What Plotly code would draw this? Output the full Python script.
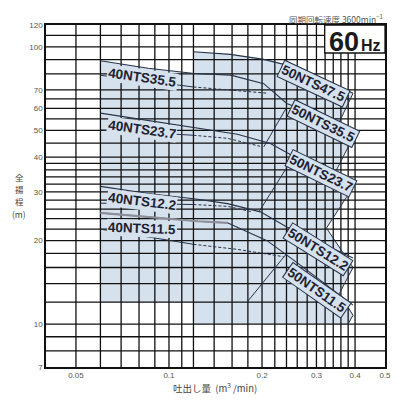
import numpy as np
import plotly.graph_objects as go

# ---------------- axes / grid ----------------
x_range = [0.04, 0.5]
y_range = [7, 120]
x_grid = [0.05, 0.06, 0.07, 0.08, 0.09, 0.1, 0.11, 0.12, 0.14, 0.16, 0.18, 0.2,
          0.22, 0.24, 0.26, 0.28, 0.3, 0.32, 0.34, 0.36, 0.38, 0.4]
y_grid = [8, 9, 10, 12, 14, 16, 18, 20, 22, 24, 26, 28, 30, 32, 34, 36, 38, 40,
          45, 50, 55, 60, 65, 70, 80, 90, 100, 110]
x_ticks = [0.05, 0.1, 0.2, 0.3, 0.4, 0.5]
x_tick_text = ["0.05", "0.1", "0.2", "0.3", "0.4", "0.5"]
y_ticks = [7, 10, 20, 30, 40, 50, 60, 70, 100, 120]
y_tick_text = ["7", "10", "20", "30", "40", "50", "60", "70", "100", "120"]

# ---------------- shaded ranges ----------------
area40_q = [0.06, 0.06, 0.0856, 0.12, 0.12]
area40_h = [12, 89.1, 83.8, 80.2, 12]
area50_q = [0.12, 0.12, 0.158, 0.2026, 0.2406, 0.300, 0.394, 0.343, 0.394, 0.348,
            0.394, 0.3233, 0.394, 0.356, 0.394, 0.3795]
area50_h = [10, 96.1, 94.0, 90.2, 86.0, 78.5, 68.0, 49.3, 47.2, 35.9,
            31.2, 22.2, 16.0, 12.9, 10.76, 10]
edge_q = [0.394, 0.343, 0.394, 0.348, 0.394, 0.3233, 0.394, 0.356, 0.394, 0.3795]
edge_h = [68.0, 49.3, 47.2, 35.9, 31.2, 22.2, 16.0, 12.9, 10.76, 10]

# ---------------- head curves ----------------
c475_q = [0.12, 0.158, 0.2026, 0.2406, 0.300, 0.394]
c475_h = [96.1, 94.0, 90.2, 86.0, 78.5, 68.0]
c355_q = [0.06, 0.0856, 0.1209, 0.1584, 0.2026, 0.2406, 0.300, 0.394]
c355_h = [89.1, 83.8, 80.2, 79.1, 73.7, 62.5, 56.7, 50.0]
c237_q = [0.06, 0.0856, 0.1239, 0.1664, 0.2128, 0.2528, 0.3115, 0.394]
c237_h = [57.7, 54.2, 50.8, 48.4, 44.8, 40.3, 37.0, 33.0]
c122_q = [0.06, 0.0856, 0.1239, 0.1546, 0.1976, 0.2406, 0.300, 0.394]
c122_h = [31.4, 29.6, 28.2, 27.2, 25.4, 22.4, 20.0, 17.3]
c115_q = [0.06, 0.0856, 0.1239, 0.1546, 0.2076, 0.259, 0.3233, 0.394]
c115_h = [25.2, 24.3, 23.5, 23.2, 20.0, 16.7, 13.8, 11.7]

# lower lines (solid in 40NTS range, dashed beyond)
low_q = [[0.06, 0.12, 0.1546, 0.2076],
         [0.06, 0.12, 0.1546, 0.1972],
         [0.06, 0.12, 0.1546, 0.186],
         [0.06, 0.12, 0.1664, 0.2349]]
low_h = [[79.0, 71.7, 70.2, 68.1],
         [50.2, 48.0, 46.8, 43.8],
         [27.3, 27.0, 26.6, 25.4],
         [22.0, 19.4, 18.6, 17.5]]

# limit lines
lim_q = [[0.2026, 0.2406], [0.1953, 0.2528], [0.1792, 0.2406]]
lim_h = [[43.6, 60.7], [25.4, 40.1], [12.03, 18.0]]

# ---------------- labels ----------------
lab_text = ["40NTS35.5", "40NTS23.7", "40NTS12.2", "40NTS11.5",
            "50NTS47.5", "50NTS35.5", "50NTS23.7", "50NTS12.2", "50NTS11.5"]
lab_q = [0.0819, 0.0819, 0.0819, 0.0819, 0.293, 0.3155, 0.3115, 0.304, 0.302]
lab_h = [77.7, 50.4, 27.7, 22.2, 73.7, 53.0, 35.0, 18.6, 13.26]
lab_ang = [8, 8, 7, 2, 25, 26, 26, 32, 35]
lab_box = [False, False, False, False, True, True, True, True, True]

# vertical y-axis title, one piece per line
ytitle_parts = ["全", "揚", "程", "(m)"]
ytitle_rows = [177, 189, 201, 214]

FILL = "#d6e1ee"
INK = "#263248"
FONT = "Liberation Sans, Arial, sans-serif"
JFONT = "Noto Sans CJK JP, Liberation Sans, sans-serif"

# plot area in pixels (for paper-positioned texts)
PL, PR, PT, PB = 46, 389, 25, 367


def px(xp):
    return (xp - PL) / (PR - PL)


def py(yp):
    return 1 - (yp - PT) / (PB - PT)


fig = go.Figure()
fig.add_trace(go.Scatter(x=area40_q, y=area40_h, mode="lines", fill="toself",
                         fillcolor=FILL, line=dict(width=0), hoverinfo="skip"))
fig.add_trace(go.Scatter(x=area50_q, y=area50_h, mode="lines", fill="toself",
                         fillcolor=FILL, line=dict(width=0), hoverinfo="skip"))

# grid lines over the shading
gx, gy = [], []
for v in x_grid:
    gx += [v, v, None]
    gy += [y_range[0], y_range[1], None]
for v in y_grid:
    gx += [x_range[0], x_range[1], None]
    gy += [v, v, None]
fig.add_trace(go.Scatter(x=gx, y=gy, mode="lines", line=dict(color="#111", width=1.3),
                         hoverinfo="skip"))

for q, h in zip(low_q, low_h):
    fig.add_trace(go.Scatter(x=q[:2], y=h[:2], mode="lines",
                             line=dict(color=INK, width=1)))
    fig.add_trace(go.Scatter(x=q[1:], y=h[1:], mode="lines",
                             line=dict(color=INK, width=1, dash="3px,2px")))
for q, h in zip(lim_q, lim_h):
    fig.add_trace(go.Scatter(x=q, y=h, mode="lines", line=dict(color=INK, width=1)))

fig.add_trace(go.Scatter(x=edge_q, y=edge_h, mode="lines", line=dict(color=INK, width=1)))
for q, h in [(c475_q, c475_h), (c355_q, c355_h), (c237_q, c237_h),
             (c122_q, c122_h), (c115_q, c115_h)]:
    fig.add_trace(go.Scatter(x=q, y=h, mode="lines", line=dict(color=INK, width=1.1)))
fig.add_trace(go.Scatter(x=c115_q[:4], y=c115_h[:4], mode="lines",
                         line=dict(color="#8d9098", width=2.2)))

ann = []
for t, q, h, a, b in zip(lab_text, lab_q, lab_h, lab_ang, lab_box):
    ann.append(dict(x=np.log10(q), y=np.log10(h), xref="x", yref="y",
                    xanchor="center", yanchor="middle",
                    text="<b>%s</b>" % t, showarrow=False, textangle=a,
                    font=dict(family=FONT, size=13.5, color="#1d2233"),
                    bgcolor=FILL, bordercolor=INK if b else FILL,
                    borderwidth=1 if b else 0, borderpad=1))

for t, r in zip(ytitle_parts, ytitle_rows):
    ann.append(dict(x=px(19), y=py(r), xref="paper", yref="paper",
                    xanchor="center", yanchor="middle", text=t, showarrow=False,
                    borderpad=0,
                    font=dict(family=JFONT, size=8.5, color="#444")))

ann += [
    dict(x=px(217), y=py(387), xref="paper", yref="paper",
         xanchor="center", yanchor="middle",
         text="吐出し量  (m<sup>3</sup> /min)", showarrow=False,
         font=dict(family=JFONT, size=9.5, color="#444")),
    dict(x=px(389), y=py(18), xref="paper", yref="paper",
         xanchor="right", yanchor="middle",
         text="同期回転速度 3600min<sup>−1</sup>", showarrow=False,
         font=dict(family=JFONT, size=8.5, color="#555")),
    dict(x=px(365), y=py(41.5), xref="paper", yref="paper",
         xanchor="right", yanchor="middle",
         text="<b>60</b>", showarrow=False,
         font=dict(family=FONT, size=27, color="#1a1a1a")),
    dict(x=px(363), y=py(45), xref="paper", yref="paper",
         xanchor="left", yanchor="middle",
         text="<b>Hz</b>", showarrow=False,
         font=dict(family=FONT, size=16, color="#1a1a1a")),
]

fig.update_layout(
    width=403, height=403,
    margin=dict(l=PL, r=403 - PR, t=PT, b=403 - PB),
    paper_bgcolor="white", plot_bgcolor="white",
    showlegend=False,
    annotations=ann,
    shapes=[dict(type="rect", xref="paper", yref="paper", x0=px(328), x1=1,
                 y0=py(53), y1=1, fillcolor="white",
                 line=dict(color="#111", width=1.3), layer="above")],
    xaxis=dict(type="log", range=[np.log10(x_range[0]), np.log10(x_range[1])],
               tickvals=x_ticks, ticktext=x_tick_text, showgrid=False, zeroline=False,
               showline=True, mirror=True, linecolor="#111", linewidth=1.5, ticks="",
               tickfont=dict(family=FONT, size=8, color="#555")),
    yaxis=dict(type="log", range=[np.log10(y_range[0]), np.log10(y_range[1])],
               tickvals=y_ticks, ticktext=y_tick_text, showgrid=False, zeroline=False,
               showline=True, mirror=True, linecolor="#111", linewidth=1.5, ticks="",
               tickfont=dict(family=FONT, size=8, color="#555")),
)

fig.write_html("out.html")
